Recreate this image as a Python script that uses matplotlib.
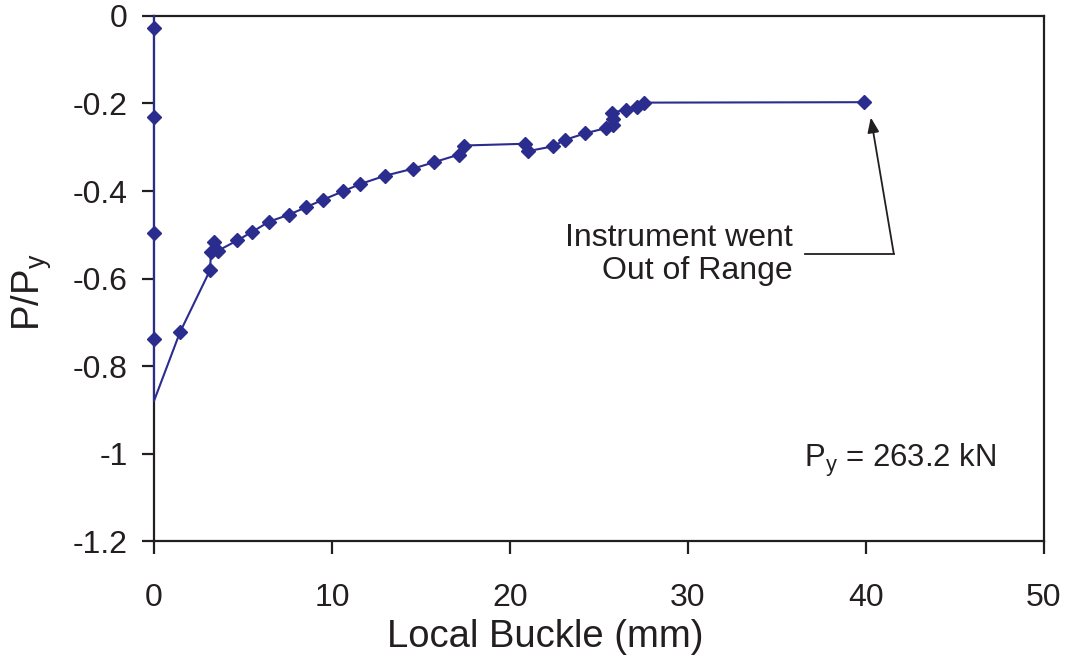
import numpy as np
import matplotlib
matplotlib.use('Agg')
import matplotlib.pyplot as plt

plt.rcParams['font.family'] = ['Liberation Sans', 'DejaVu Sans']
plt.rcParams['mathtext.default'] = 'regular'
plt.rcParams['axes.unicode_minus'] = False

# local buckle (mm) vs normalised load P/Py
buckle = [0.0, 0.0, 0.0, 0.0, 0.0, 0.0, 1.46, 3.15, 3.2, 3.4, 3.57, 4.68,
          5.49, 6.47, 7.59, 8.55, 9.49, 10.61, 11.59, 12.99, 14.55, 15.75,
          17.11, 17.44, 20.87, 21.0, 22.4, 23.1, 24.24, 25.42, 25.78, 25.78,
          25.74, 26.5, 27.15, 27.52, 39.9]
load = [0.0, -0.027, -0.23, -0.495, -0.739, -0.88, -0.723, -0.581, -0.54,
        -0.517, -0.537, -0.513, -0.494, -0.470, -0.454, -0.437, -0.420,
        -0.401, -0.384, -0.365, -0.349, -0.334, -0.317, -0.296, -0.292,
        -0.309, -0.298, -0.283, -0.268, -0.256, -0.249, -0.236, -0.221,
        -0.214, -0.207, -0.198, -0.197]
no_marker = {0, 5}   # line vertices drawn without a diamond

xticks = [0, 10, 20, 30, 40, 50]
yticks = [0, -0.2, -0.4, -0.6, -0.8, -1, -1.2]
ytick_labels = ['0', '-0.2', '-0.4', '-0.6', '-0.8', '-1', '-1.2']

BLUE = '#2a2c8e'
INK = '#231f20'

fig = plt.figure(figsize=(10.7, 6.72), dpi=100)
ax = fig.add_axes([0.1439, 0.1949, 0.9757 - 0.1439, 0.9762 - 0.1949])

marks = [i for i in range(len(buckle)) if i not in no_marker]
ax.plot(buckle, load, color=BLUE, lw=1.5, marker='D', ms=6.8,
        markevery=marks, mec=BLUE, mfc=BLUE, zorder=3, clip_on=False)

ax.set_xlim(0, 50)
ax.set_ylim(-1.2, 0)
ax.set_xticks(xticks)
ax.set_yticks(yticks)
ax.set_yticklabels(ytick_labels)
for s in ax.spines.values():
    s.set_linewidth(1.6)
    s.set_color(INK)
ax.tick_params(axis='both', direction='out', length=9, width=1.6,
               colors=INK, labelsize=23, labelcolor=INK)
ax.tick_params(axis='x', pad=21.5)
ax.tick_params(axis='y', pad=10)
ax.tick_params(top=False, right=False)

ax.set_xlabel('Local Buckle (mm)', fontsize=27.5, color=INK)
ax.xaxis.set_label_coords(0.44, -0.148)
ax.set_ylabel('P/P$_y$', fontsize=27.5, color=INK)
ax.yaxis.set_label_coords(-0.112, 0.474)

ax.text(36.5, -1.015, 'P$_y$ = 263.2 kN', fontsize=22.4, color=INK,
        ha='left', va='center')

ax.text(35.9, -0.545, 'Instrument went\nOut of Range', fontsize=23,
        color=INK, ha='right', va='center', linespacing=1.1)
ax.plot([36.6, 41.56], [-0.543, -0.543], color=INK, lw=1.3)
ax.annotate('', xy=(40.27, -0.232), xytext=(41.56, -0.543),
            arrowprops=dict(arrowstyle='-|>,head_length=0.9,head_width=0.35',
                            color=INK, lw=1.3, shrinkA=0, shrinkB=0))

fig.savefig('out.png', dpi=100)
